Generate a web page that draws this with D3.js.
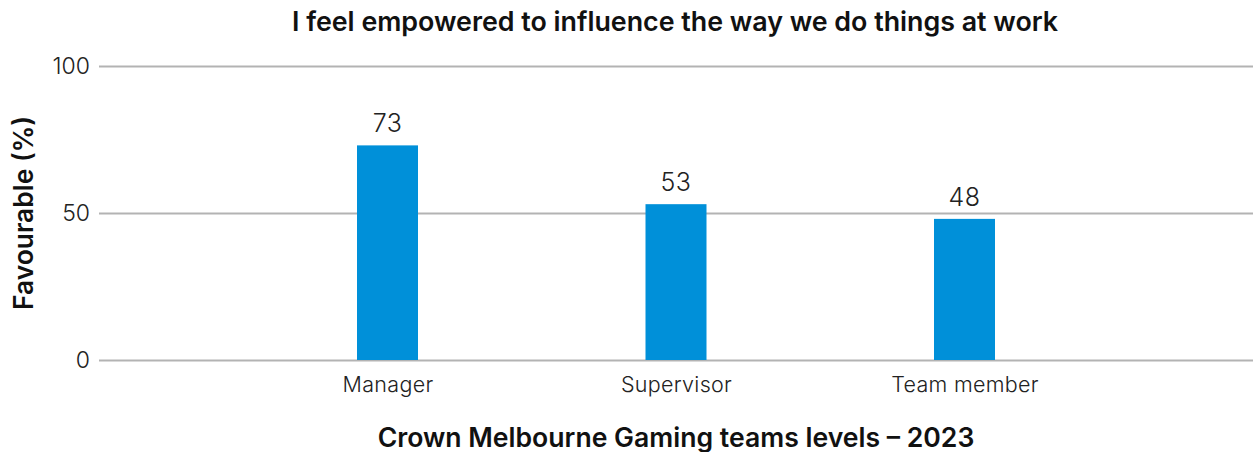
<!DOCTYPE html>
<html>
<head>
<meta charset="utf-8">
<script src="https://cdn.jsdelivr.net/npm/d3@7"></script>
<style>
  html, body { margin: 0; padding: 0; background: #fff; }
  svg { display: block; font-family: Inter, Lato, sans-serif; }
</style>
</head>
<body>
<svg id="chart" width="1259" height="452"></svg>
<script>
// Survey results by team level
const categories = ["Manager", "Supervisor", "Team member"];
const favourable = [73, 53, 48];
const yTicks = [0, 50, 100];

const titleText = "I feel empowered to influence the way we do things at work";
const xTitleText = "Crown Melbourne Gaming teams levels \u2013 2023";
const yTitleText = "Favourable (%)";

const svg = d3.select("#chart");
const plot = { left: 99, right: 1253, top: 66, bottom: 360 };

const x = d3.scalePoint()
  .domain(categories)
  .range([plot.left, plot.right])
  .padding(1);

const y = d3.scaleLinear()
  .domain([0, 100])
  .range([plot.bottom, plot.top]);

const barWidth = 61;

// horizontal gridlines with value labels
const yAxis = d3.axisLeft(y)
  .tickValues(yTicks)
  .tickSize(-(plot.right - plot.left))
  .tickPadding(9);

const gy = svg.append("g")
  .attr("transform", `translate(${plot.left},0)`)
  .call(yAxis);
gy.select(".domain").remove();
gy.selectAll(".tick line").attr("stroke", "#b3b3b3").attr("stroke-width", 2);
gy.selectAll(".tick text")
  .attr("fill", "#222")
  .attr("font-size", 23)
  .attr("font-weight", 300)
  .attr("font-family", "Inter, sans-serif");

// bars
svg.append("g").selectAll("rect")
  .data(favourable)
  .join("rect")
  .attr("x", (d, i) => x(categories[i]) - barWidth / 2)
  .attr("y", d => y(d))
  .attr("width", barWidth)
  .attr("height", d => y(0) - y(d))
  .attr("fill", "#0090d9");

// value labels
svg.append("g").selectAll("text")
  .data(favourable)
  .join("text")
  .attr("x", (d, i) => x(categories[i]))
  .attr("y", d => y(d) - 13)
  .attr("text-anchor", "middle")
  .attr("font-size", 25)
  .attr("font-weight", 300)
  .attr("letter-spacing", 0.5)
  .attr("fill", "#222")
  .text(d => d);

// category axis labels
const xAxis = d3.axisBottom(x).tickSize(0).tickPadding(17);
const gx = svg.append("g")
  .attr("transform", `translate(0,${plot.bottom})`)
  .call(xAxis);
gx.select(".domain").remove();
gx.selectAll(".tick text")
  .attr("fill", "#222")
  .attr("font-size", 21.5)
  .attr("font-weight", 300)
  .attr("letter-spacing", 0.3)
  .attr("font-family", "Inter, sans-serif");

// titles
svg.append("text")
  .attr("x", 675)
  .attr("y", 31)
  .attr("text-anchor", "middle")
  .attr("font-size", 26.8)
  .attr("font-weight", 600)
  .attr("fill", "#111")
  .text(titleText);

svg.append("text")
  .attr("x", 676)
  .attr("y", 447)
  .attr("text-anchor", "middle")
  .attr("font-size", 26.6)
  .attr("font-weight", 600)
  .attr("fill", "#111")
  .text(xTitleText);

svg.append("text")
  .attr("transform", `translate(33,${(plot.top + plot.bottom) / 2}) rotate(-90)`)
  .attr("text-anchor", "middle")
  .attr("font-size", 26.4)
  .attr("font-weight", 600)
  .attr("fill", "#111")
  .text(yTitleText);
</script>
</body>
</html>
